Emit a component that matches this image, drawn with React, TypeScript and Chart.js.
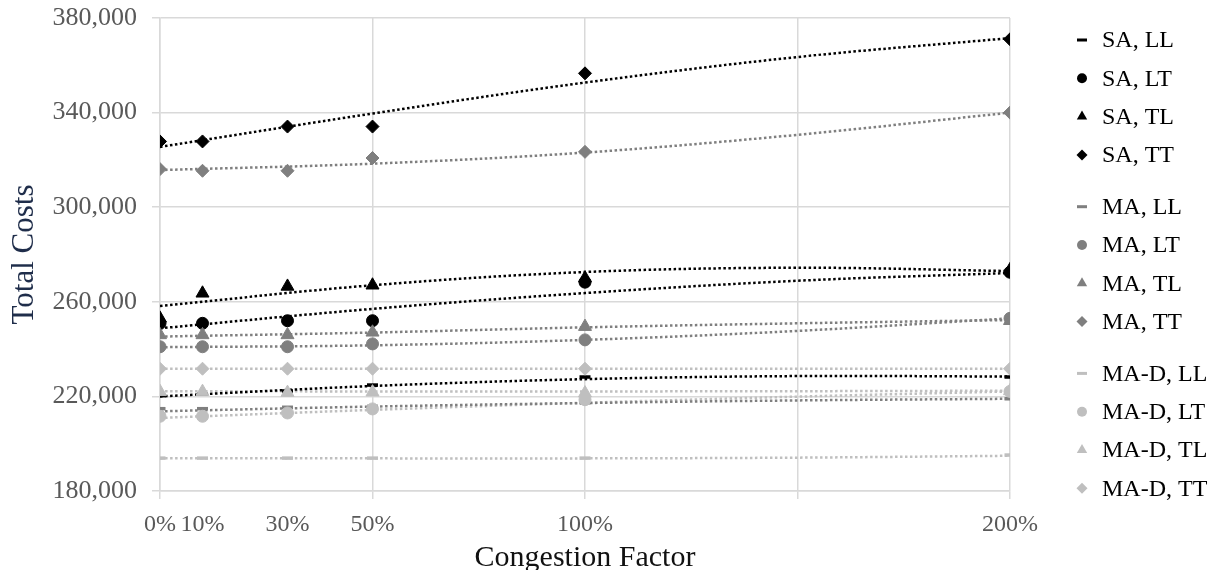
import React, { useEffect, useRef } from 'react';
import { Chart, registerables } from 'chart.js';

Chart.register(...registerables);

// ---------- data ----------
const congestion = [0, 0.1, 0.3, 0.5, 1, 2];
const xTickValues = [0, 0.1, 0.3, 0.5, 1, 2];
const xTickLabels = ['0%', '10%', '30%', '50%', '100%', '200%'];
const xGridValues = [0, 0.5, 1, 1.5, 2];
const yMin = 180000;
const yMax = 380000;
const yStep = 40000;

const seriesNames = [
  'SA, LL', 'SA, LT', 'SA, TL', 'SA, TT',
  'MA, LL', 'MA, LT', 'MA, TL', 'MA, TT',
  'MA-D, LL', 'MA-D, LT', 'MA-D, TL', 'MA-D, TT',
];

const saLL = [220300, 221000, 222300, 224800, 228200, 228200];
const saLT = [250900, 250900, 252000, 252000, 268300, 272500];
const saTL = [253000, 263600, 266500, 267000, 270000, 273500];
const saTT = [327800, 327800, 334100, 334100, 356600, 371000];

const maLL = [214800, 214800, 215400, 215800, 217300, 219000];
const maLT = [241000, 241000, 241000, 242200, 243900, 253000];
const maTL = [246000, 246000, 246000, 247100, 249500, 252000];
const maTT = [316100, 315400, 315400, 320800, 323400, 340000];

const madLL = [193900, 193900, 193900, 193900, 193900, 195200];
const madLT = [211600, 211600, 213000, 214700, 218600, 222100];
const madTL = [222000, 222000, 221600, 221800, 221400, 222300];
const madTT = [231700, 231700, 231700, 231700, 231700, 231700];

// trend lines (at these x positions)
const trendX = [0, 0.5, 1, 1.5, 2];
const saLLTrend = [220000, 224400, 227300, 228600, 228400];
const saLTTrend = [248800, 257000, 263700, 268900, 272200];
const saTLTrend = [258200, 267000, 272600, 274400, 273000];
const saTTTrend = [325500, 339600, 352700, 363500, 371500];

const maLLTrend = [213700, 215700, 217200, 218300, 219000];
const maLTTrend = [240800, 241600, 243900, 247700, 253000];
const maTLTrend = [245300, 247000, 249200, 250900, 252300];
const maTTTrend = [315700, 318400, 323100, 330600, 340000];

const madLLTrend = [193900, 193800, 193800, 194100, 194900];
const madLTTrend = [210900, 214300, 217300, 219900, 222100];
const madTLTrend = [222200, 222100, 222100, 222200, 222400];
const madTTTrend = [231700, 231700, 231700, 231700, 231700];

const seriesValues = [saLL, saLT, saTL, saTT, maLL, maLT, maTL, maTT, madLL, madLT, madTL, madTT];
const trendValues = [
  saLLTrend, saLTTrend, saTLTrend, saTTTrend,
  maLLTrend, maLTTrend, maTLTrend, maTTTrend,
  madLLTrend, madLTTrend, madTLTrend, madTTTrend,
];

// ---------- styles ----------
const groupColors = ['#000000', '#7f7f7f', '#bfbfbf'];
const styleList = ['line', 'circle', 'triangle', 'rectRot'];
const radiusList = [5.5, 6, 7.5, 6.5];
const FONT = '"Liberation Serif", "DejaVu Serif", serif';
const GRID = '#d9d9d9';

function drawLegendMarker(ctx: CanvasRenderingContext2D, style: string, x: number, y: number, color: string) {
  ctx.fillStyle = color;
  ctx.strokeStyle = color;
  ctx.beginPath();
  if (style === 'line') {
    ctx.fillRect(x - 5, y - 1.5, 10, 3);
    return;
  } else if (style === 'circle') {
    ctx.arc(x, y, 5, 0, Math.PI * 2);
  } else if (style === 'triangle') {
    const r = 6;
    ctx.moveTo(x, y - r);
    ctx.lineTo(x + r * 0.866, y + r * 0.5);
    ctx.lineTo(x - r * 0.866, y + r * 0.5);
    ctx.closePath();
  } else {
    const r = 5.5;
    ctx.moveTo(x, y - r);
    ctx.lineTo(x + r, y);
    ctx.lineTo(x, y + r);
    ctx.lineTo(x - r, y);
    ctx.closePath();
  }
  ctx.fill();
}

const groupLegend = {
  id: 'groupLegend',
  afterDraw(chart: any) {
    const ctx: CanvasRenderingContext2D = chart.ctx;
    const right = chart.chartArea.right;
    ctx.save();
    ctx.font = `24px ${FONT}`;
    ctx.textBaseline = 'middle';
    ctx.textAlign = 'left';
    seriesNames.forEach((name, i) => {
      const group = Math.floor(i / 4);
      const y = 32 + i * 38.3 + group * 13.5;
      drawLegendMarker(ctx, styleList[i % 4], right + 72, y, groupColors[group]);
      ctx.fillStyle = '#000000';
      ctx.fillText(name, right + 92, y + 1);
    });
    ctx.restore();
  },
};

export default function App() {
  const canvasRef = useRef<HTMLCanvasElement | null>(null);

  useEffect(() => {
    if (!canvasRef.current) return;

    const trendSets = trendValues.map((vals, i) => {
      const color = groupColors[Math.floor(i / 4)];
      return {
        label: seriesNames[i] + ' trend',
        data: trendX.map((x, j) => ({ x, y: vals[j] })),
        showLine: true,
        borderColor: color,
        backgroundColor: color,
        borderWidth: 2.5,
        borderDash: [2.5, 2.5],
        pointRadius: 0,
        tension: 0.35,
        order: 100,
      };
    });

    const markerSets = seriesValues.map((vals, i) => {
      const color = groupColors[Math.floor(i / 4)];
      const style = styleList[i % 4];
      return {
        label: seriesNames[i],
        data: congestion.map((x, j) => ({ x, y: vals[j] })),
        showLine: false,
        pointStyle: style,
        pointRadius: radiusList[i % 4],
        pointBackgroundColor: color,
        pointBorderColor: color,
        pointBorderWidth: style === 'line' ? 3.5 : 1,
        order: 50 - i,
      };
    });

    const chart = new Chart(canvasRef.current, {
      type: 'scatter',
      data: { datasets: [...trendSets, ...markerSets] as any },
      options: {
        animation: false,
        responsive: true,
        maintainAspectRatio: false,
        events: [],
        layout: { padding: { top: 10, right: 212, left: 0, bottom: 0 } },
        plugins: {
          legend: { display: false },
          tooltip: { enabled: false },
        },
        scales: {
          x: {
            type: 'linear',
            min: 0,
            max: 2,
            afterBuildTicks: (scale: any) => {
              const vals = Array.from(new Set([...xGridValues, ...xTickValues])).sort((a, b) => a - b);
              scale.ticks = vals.map((v) => ({ value: v }));
            },
            afterFit: (scale: any) => {
              scale.height = 85;
              scale.paddingLeft = 0;
              scale.paddingRight = 0;
            },
            grid: {
              color: (ctx: any) =>
                ctx.tick && xGridValues.includes(ctx.tick.value) ? GRID : 'rgba(0,0,0,0)',
              lineWidth: 1.5,
              tickLength: 8,
            },
            border: { color: GRID, width: 1.5 },
            ticks: {
              autoSkip: false,
              maxRotation: 0,
              padding: 11,
              color: '#595959',
              font: { family: FONT, size: 24 },
              callback: (value: any) => {
                const idx = xTickValues.indexOf(Number(value));
                return idx >= 0 ? xTickLabels[idx] : '';
              },
            },
            title: {
              display: true,
              text: 'Congestion Factor',
              color: '#111111',
              padding: 0,
              font: { family: FONT, size: 30, lineHeight: 1.2 },
            },
          },
          y: {
            type: 'linear',
            min: yMin,
            max: yMax,
            afterFit: (scale: any) => {
              scale.width = 152;
              scale.paddingTop = 0;
              scale.paddingBottom = 0;
            },
            grid: { color: GRID, lineWidth: 1.5, tickLength: 8 },
            border: { color: GRID, width: 1.5 },
            ticks: {
              stepSize: yStep,
              padding: 15,
              color: '#595959',
              font: { family: FONT, size: 26 },
              callback: (value: any) => Number(value).toLocaleString('en-US'),
            },
            title: {
              display: true,
              text: 'Total Costs',
              color: '#1f2d4a',
              padding: 0,
              font: { family: FONT, size: 31, lineHeight: 1.07 },
            },
          },
        },
      },
      plugins: [groupLegend],
    });

    return () => chart.destroy();
  }, []);

  return (
    <div style={{ position: 'relative', width: '1214px', height: '568px', marginBottom: '-6px' }}>
      <canvas ref={canvasRef} />
    </div>
  );
}
